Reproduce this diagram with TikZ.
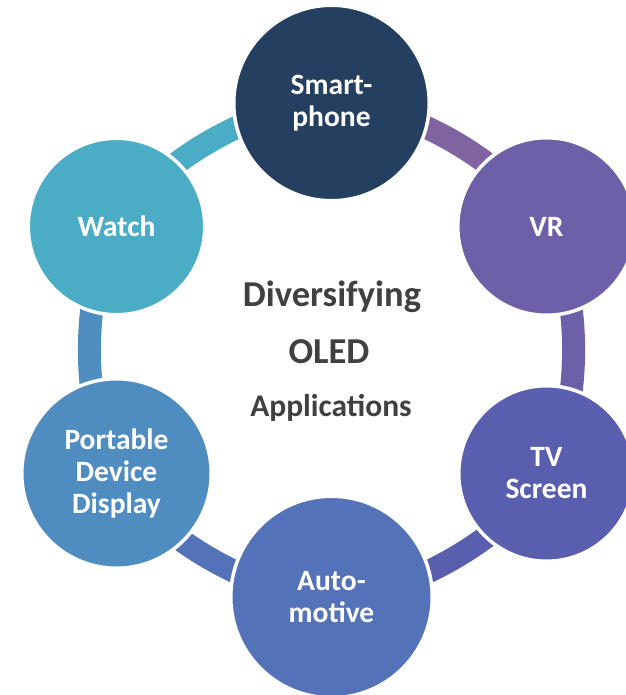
\documentclass[tikz,border=0pt]{standalone}
\usepackage{fontspec}
\setmainfont{Carlito}
\usetikzlibrary{backgrounds}
\definecolor{spColor}{HTML}{243F60}
\definecolor{vrColor}{HTML}{6E60A8}
\definecolor{tvColor}{HTML}{5A5EAE}
\definecolor{auColor}{HTML}{5472B8}
\definecolor{pdColor}{HTML}{4F8CC0}
\definecolor{waColor}{HTML}{4BACC6}
\definecolor{segColor}{HTML}{8064A2}
\definecolor{hubColor}{HTML}{404040}
\tikzset{
	app/.style={circle, draw=white, line width=3.5pt, inner sep=0pt, text=white,
		align=center, font=\fontsize{29.5}{32}\selectfont\bfseries},
	seg/.style={line width=23pt, bend left=30, looseness=0.75},
	hub/.style={anchor=base, text=hubColor, font=\bfseries}
}

\begin{document}
\begin{tikzpicture}[x=1pt, y=1pt]
	\useasboundingbox (0,0) rectangle (625,695);
	\node[app, fill=spColor, minimum size=195.5pt] (a1) at (331.5, 592) {Smart-\\phone};
	\node[app, fill=vrColor, minimum size=177.5pt] (a2) at (546.5, 468.5) {VR};
	\node[app, fill=tvColor, minimum size=175.5pt] (a3) at (546.5, 221.5) {TV\\Screen};
	\node[app, fill=auColor, minimum size=201.5pt] (a4) at (331.5, 98) {Auto-\\motive};
	\node[app, fill=pdColor, minimum size=189.5pt] (a5) at (116.5, 221.5) {Portable\\Device\\Display};
	\node[app, fill=waColor, minimum size=176.5pt] (a6) at (116.5, 468.5) {Watch};
	
	\node[hub, font=\fontsize{36.5}{40}\selectfont\bfseries] (h1) at (332, 388) {Diversifying};
	\node[hub, font=\fontsize{36.5}{40}\selectfont\bfseries] (h2) at (329, 331) {OLED};
	\node[hub, font=\fontsize{31.5}{36}\selectfont\bfseries] (h3) at (331, 278) {Applications};
	
	\begin{scope}[on background layer]
		\draw[seg, segColor] (a1.center) to (a2.center);
		\draw[seg, vrColor] (a2.center) to (a3.center);
		\draw[seg, tvColor] (a3.center) to (a4.center);
		\draw[seg, auColor] (a4.center) to (a5.center);
		\draw[seg, pdColor] (a5.center) to (a6.center);
		\draw[seg, waColor] (a6.center) to (a1.center);
	\end{scope}
\end{tikzpicture}
\end{document}
